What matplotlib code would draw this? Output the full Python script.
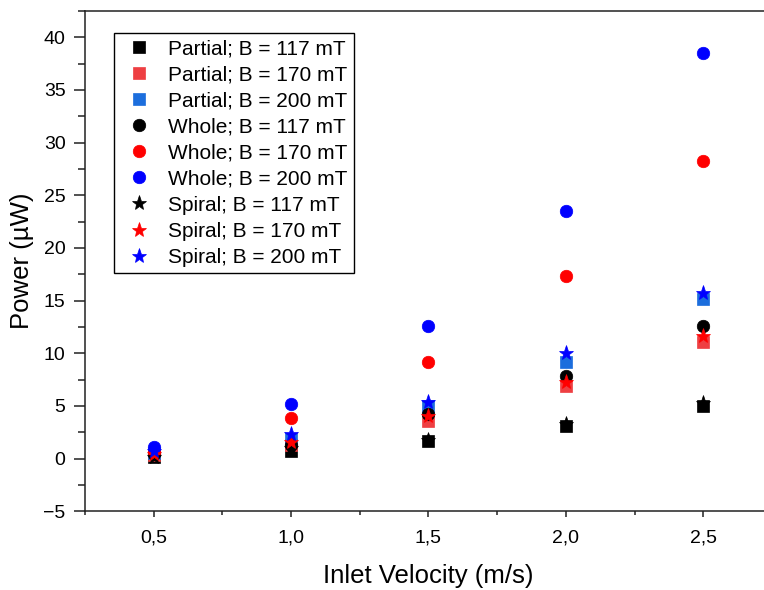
import numpy as np
import matplotlib
matplotlib.use('Agg')
import matplotlib.pyplot as plt
from matplotlib.ticker import MultipleLocator, FuncFormatter

plt.rcParams['font.family'] = ['Liberation Sans', 'DejaVu Sans']

velocity = [0.5, 1.0, 1.5, 2.0, 2.5]

partial_117 = [0.2, 0.7, 1.7, 3.1, 5.0]
partial_170 = [0.3, 1.3, 3.6, 6.9, 11.1]
partial_200 = [0.5, 1.9, 5.0, 9.2, 15.2]
whole_117 = [0.4, 1.3, 4.2, 7.8, 12.6]
whole_170 = [0.6, 3.9, 9.2, 17.3, 28.3]
whole_200 = [1.1, 5.2, 12.6, 23.5, 38.5]
spiral_117 = [0.2, 1.0, 1.8, 3.3, 5.3]
spiral_170 = [0.4, 1.6, 4.0, 7.3, 11.6]
spiral_200 = [0.7, 2.3, 5.4, 10.0, 15.7]

series = [
    ('Partial; B = 117 mT', partial_117, 's', 'black', 8),
    ('Partial; B = 170 mT', partial_170, 's', '#EE3F42', 8),
    ('Partial; B = 200 mT', partial_200, 's', '#1C6EDD', 8),
    ('Whole; B = 117 mT', whole_117, 'o', 'black', 9),
    ('Whole; B = 170 mT', whole_170, 'o', '#FF0000', 9),
    ('Whole; B = 200 mT', whole_200, 'o', '#0000FF', 9),
    ('Spiral; B = 117 mT', spiral_117, '*', 'black', 11),
    ('Spiral; B = 170 mT', spiral_170, '*', '#FF0000', 11),
    ('Spiral; B = 200 mT', spiral_200, '*', '#0000FF', 11),
]

fig = plt.figure(figsize=(7.64, 5.90), dpi=100)
# axes run a little past the right edge of the figure
ax = fig.add_axes([0.1113, 0.1334, 0.899, 0.848])

for label, vals, mk, col, ms in series:
    ax.plot(velocity, vals, linestyle='none', marker=mk, color=col,
            markersize=ms, markeredgewidth=0.5, label=label)

ax.set_xlim(0.25, 2.75)
ax.set_ylim(-5, 42.5)
ax.xaxis.set_major_locator(MultipleLocator(0.5))
ax.xaxis.set_minor_locator(MultipleLocator(0.25))
ax.yaxis.set_major_locator(MultipleLocator(5))
ax.yaxis.set_minor_locator(MultipleLocator(2.5))
ax.xaxis.set_major_formatter(FuncFormatter(lambda v, p: f'{v:.1f}'.replace('.', ',')))

for s in ax.spines.values():
    s.set_linewidth(1.1)
    s.set_color('#222222')
ax.spines['right'].set_visible(False)

ax.tick_params(axis='both', which='both', direction='out', top=False, right=False,
               labelsize=14, color='#222222', width=1.1)
ax.tick_params(axis='x', which='major', length=4, pad=9)
ax.tick_params(axis='x', which='minor', length=3)
ax.tick_params(axis='y', which='major', length=8, pad=6)
ax.tick_params(axis='y', which='minor', length=5)

ax.set_xlabel('Inlet Velocity (m/s)', fontsize=18.5, labelpad=13)
ax.set_ylabel('Power (µW)', fontsize=18.5, labelpad=7)

leg = ax.legend(loc='upper left', bbox_to_anchor=(0.042, 0.956), borderaxespad=0,
                fontsize=15, frameon=True, fancybox=False, edgecolor='black',
                handlelength=1.8, handletextpad=0.5, labelspacing=0.34,
                borderpad=0.3, framealpha=1)
leg.get_frame().set_linewidth(1.0)

fig.savefig('out.png', dpi=100)
